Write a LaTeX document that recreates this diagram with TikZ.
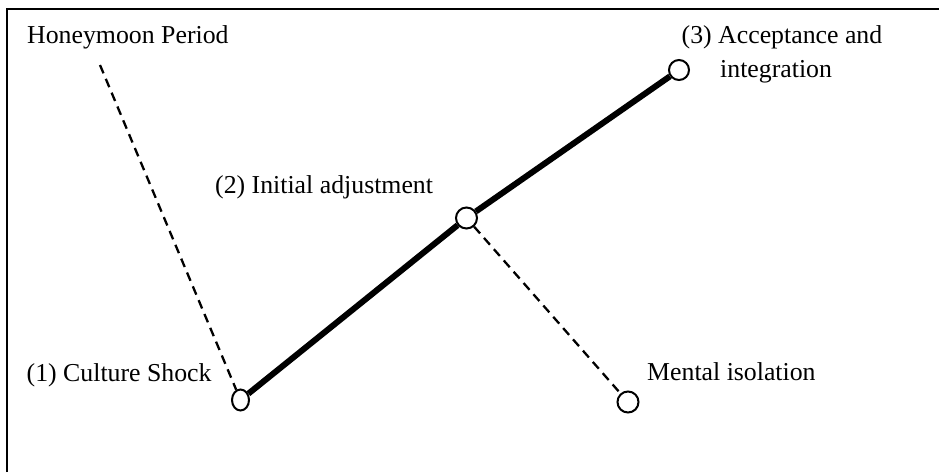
\documentclass[tikz,border=0pt]{standalone}
\usepackage{fontspec}
\setmainfont{Liberation Serif}
\usetikzlibrary{shapes.geometric}
\begin{document}
\begin{tikzpicture}[x=1pt,y=-1pt,
  lbl/.style={anchor=base west,inner sep=0pt,font=\fontsize{25.8}{30}\selectfont},
  stage/.style={draw,circle,line width=2pt,fill=white,minimum size=20pt,inner sep=0pt},
  thickline/.style={line width=6pt},
  dashline/.style={line width=2.3pt,dash pattern=on 9pt off 6pt}]
\useasboundingbox (0,0) rectangle (939,472);
\draw[line width=2pt] (7,472) -- (7,9) -- (939,9);
\node[lbl] (thp) at (27,43) {Honeymoon Period};
\node[lbl] (t1) at (26.5,381) {(1) Culture Shock};
\node[lbl] (t2) at (215,193) {(2) Initial adjustment};
\node[lbl] (t3a) at (681.5,43) {(3) Acceptance and};
\node[lbl] (t3b) at (720,77) {integration};
\node[lbl] (t4) at (647,380) {Mental isolation};
\node[stage,ellipse,minimum width=17pt,minimum height=21pt] (c1) at (240.5,400) {};
\node[stage,minimum size=21pt] (c2) at (466.5,218) {};
\node[stage] (c3) at (679,70) {};
\node[stage,minimum size=21pt] (c4) at (628,402) {};
\coordinate (hp) at (100,65);
\draw[dashline] (hp) -- (c1);
\draw[dashline] (c2) -- (c4);
\draw[thickline] (c1) -- (c2);
\draw[thickline] (c2) -- (c3);
\end{tikzpicture}
\end{document}
